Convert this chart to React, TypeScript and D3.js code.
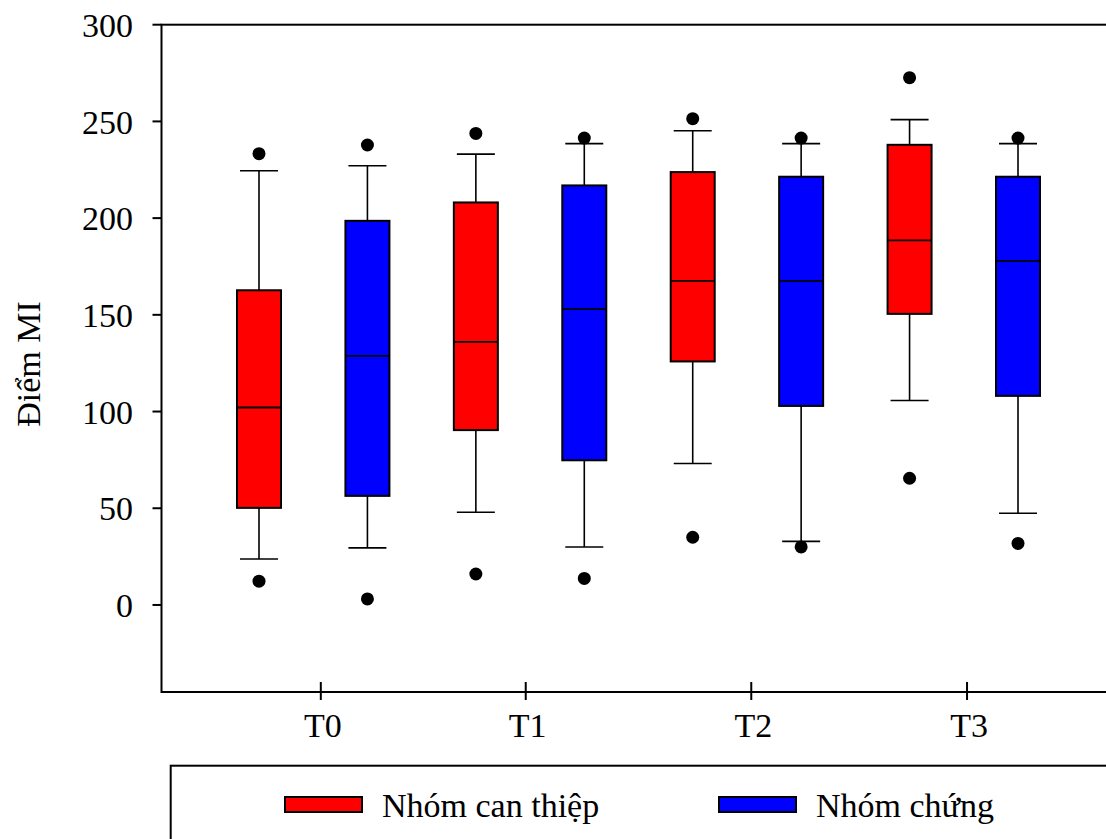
import React from 'react';
import * as d3 from 'd3';

// categories and series
const groups = ['T0', 'T1', 'T2', 'T3'];
const seriesNames = ['Nhóm can thiệp', 'Nhóm chứng'];
const seriesColors = ['#ff0000', '#0000ff'];
const yTicks = [0, 50, 100, 150, 200, 250, 300];
// where SigmaPlot put the group ticks, in box-index units
const groupTickPos = [0.57, 2.46, 4.54, 6.53];

// Nhóm can thiệp (red)
const redLow = [23.8, 47.9, 73.1, 105.7];
const redQ1 = [50.2, 90.4, 125.9, 150.5];
const redMed = [102.1, 136.0, 167.6, 188.5];
const redQ3 = [162.7, 208.1, 223.8, 237.9];
const redHigh = [224.5, 233.1, 245.2, 250.9];
const redOutHigh = [233.3, 243.8, 251.4, 272.6];
const redOutLow = [12.3, 16.0, 35.0, 65.5];

// Nhóm chứng (blue)
const blueLow = [29.5, 30.0, 32.9, 47.4];
const blueQ1 = [56.4, 74.8, 102.9, 108.1];
const blueMed = [128.8, 153.0, 167.6, 177.9];
const blueQ3 = [198.6, 216.9, 221.4, 221.4];
const blueHigh = [227.1, 238.5, 238.5, 238.5];
const blueOutHigh = [237.8, 241.4, 241.4, 241.4];
const blueOutLow = [3.1, 13.7, 30.0, 31.8];

const W = 1106;
const H = 839;
const font = '"Liberation Serif", "Times New Roman", serif';

export default function App() {
  const left = 161.5;
  const top = 24.7;
  const bottom = 692;

  const y = d3.scaleLinear().domain([-45, 300]).range([bottom, top]);
  const x = d3.scaleLinear().domain([0, 7]).range([259, 1018]);

  const boxW = 44;
  const capW = 38;

  const series = [
    { low: redLow, q1: redQ1, med: redMed, q3: redQ3, high: redHigh, outs: [redOutHigh, redOutLow] },
    { low: blueLow, q1: blueQ1, med: blueMed, q3: blueQ3, high: blueHigh, outs: [blueOutHigh, blueOutLow] },
  ];

  const boxes: any[] = [];
  groups.forEach((g, gi) => {
    series.forEach((s, si) => {
      boxes.push({
        key: g + si,
        cx: x(gi * 2 + si),
        color: seriesColors[si],
        low: s.low[gi], q1: s.q1[gi], med: s.med[gi], q3: s.q3[gi], high: s.high[gi],
        outs: s.outs.map(o => o[gi]),
      });
    });
  });

  return (
    <svg width={W} height={H} style={{ position: 'absolute', left: 0, top: 0, background: '#fff' }}>
      {/* frame */}
      <rect x={left} y={top} width={1200} height={bottom - top} fill="none" stroke="#000" strokeWidth={2} />

      {/* y axis ticks */}
      {yTicks.map(t => (
        <g key={t}>
          <line x1={left - 9} x2={left} y1={y(t)} y2={y(t)} stroke="#000" strokeWidth={2} />
          <text x={133} y={y(t)} dy="0.36em" textAnchor="end" fontFamily={font} fontSize={34}>{t}</text>
        </g>
      ))}

      {/* x axis ticks */}
      {groupTickPos.map((p, i) => (
        <g key={groups[i]}>
          <line x1={x(p)} x2={x(p)} y1={bottom - 10} y2={bottom + 8} stroke="#000" strokeWidth={2} />
          <text x={x(p) + 2} y={737} textAnchor="middle" fontFamily={font} fontSize={34}>{groups[i]}</text>
        </g>
      ))}

      {/* y title */}
      <text transform={`translate(40, 364) rotate(-90)`} textAnchor="middle" fontFamily={font} fontSize={34}>Điểm MI</text>

      {/* boxes */}
      {boxes.map(b => (
        <g key={b.key}>
          <line x1={b.cx} x2={b.cx} y1={y(b.q3)} y2={y(b.high)} stroke="#000" strokeWidth={1.6} />
          <line x1={b.cx} x2={b.cx} y1={y(b.q1)} y2={y(b.low)} stroke="#000" strokeWidth={1.6} />
          <line x1={b.cx - capW / 2} x2={b.cx + capW / 2} y1={y(b.high)} y2={y(b.high)} stroke="#000" strokeWidth={1.6} />
          <line x1={b.cx - capW / 2} x2={b.cx + capW / 2} y1={y(b.low)} y2={y(b.low)} stroke="#000" strokeWidth={1.6} />
          <rect x={b.cx - boxW / 2} y={y(b.q3)} width={boxW} height={y(b.q1) - y(b.q3)}
            fill={b.color} stroke="#000" strokeWidth={2} />
          <line x1={b.cx - boxW / 2} x2={b.cx + boxW / 2} y1={y(b.med)} y2={y(b.med)} stroke="#000" strokeWidth={1.8} />
          {b.outs.map((o: number, i: number) => (
            <circle key={i} cx={b.cx} cy={y(o)} r={6.5} fill="#000" />
          ))}
        </g>
      ))}

      {/* legend */}
      <rect x={170.7} y={765.7} width={1000} height={200} fill="#fff" stroke="#000" strokeWidth={2} />
      {seriesNames.map((name, i) => {
        const sx = [285, 719][i];
        return (
          <g key={name}>
            <rect x={sx} y={797} width={77} height={15} fill={seriesColors[i]} stroke="#000" strokeWidth={2} />
            <text x={sx + 97} y={816.5} fontFamily={font} fontSize={34}>{name}</text>
          </g>
        );
      })}
    </svg>
  );
}
